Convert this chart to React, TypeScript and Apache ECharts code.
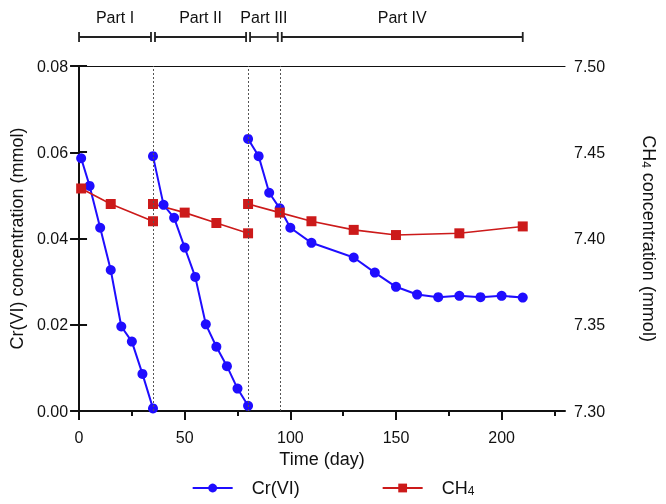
import React, { useEffect, useRef } from "react";
import * as echarts from "echarts";

// ---- data ----
const crDay = [1, 5, 10, 15, 20, 25, 30, 35, 35, 40, 45, 50, 55, 60, 65, 70, 75, 80, 80, 85, 90, 95, 100, 110, 130, 140, 150, 160, 170, 180, 190, 200, 210];
const crValue = [0.0586, 0.0522, 0.0425, 0.0327, 0.0196, 0.0161, 0.0086, 0.0006, 0.0591, 0.0478, 0.0448, 0.0379, 0.0311, 0.0201, 0.0149, 0.0104, 0.0052, 0.0012, 0.0631, 0.0591, 0.0506, 0.047, 0.0425, 0.039, 0.0356, 0.0321, 0.0288, 0.027, 0.0264, 0.0267, 0.0264, 0.0267, 0.0263];
const crRun = [1, 1, 1, 1, 1, 1, 1, 1, 2, 2, 2, 2, 2, 2, 2, 2, 2, 2, 3, 3, 3, 3, 3, 3, 3, 3, 3, 3, 3, 3, 3, 3, 3];

const ch4Day = [1, 15, 35, 35, 50, 65, 80, 80, 95, 110, 130, 150, 180, 210];
const ch4Value = [7.429, 7.42, 7.41, 7.42, 7.415, 7.409, 7.403, 7.42, 7.415, 7.41, 7.405, 7.402, 7.403, 7.407];
const ch4Run = [1, 1, 1, 2, 2, 2, 2, 3, 3, 3, 3, 3, 3, 3];

const partNames = ["Part I", "Part II", "Part III", "Part IV"];
const partStart = [0, 35, 80, 95];
const partEnd = [35, 80, 95, 210];

const xMajorTicks = [0, 50, 100, 150, 200];
const xMinorTicks = [25, 75, 125, 175, 225];

const FONT = "'Liberation Sans', Arial, Helvetica, sans-serif";
const INK = "#111";

function buildRuns(days: number[], vals: number[], runs: number[]) {
  const out: any[] = [];
  for (let i = 0; i < days.length; i++) {
    if (i > 0 && runs[i] !== runs[i - 1]) out.push("-");
    out.push([days[i], vals[i]]);
  }
  return out;
}

export default function App() {
  const ref = useRef<HTMLDivElement>(null);
  useEffect(() => {
    if (!ref.current) return;
    const chart = echarts.init(ref.current, null, { renderer: "svg" });
    const boundaries = partStart.slice(1);
    const axisLine = { lineStyle: { color: INK, width: 2 } };
    const subStyle = { fontFamily: FONT, fontSize: 12, color: INK, verticalAlign: "bottom", lineHeight: 12 };
    const option: any = {
      animation: false,
      grid: { left: 78, right: 73, top: 66, bottom: 93, containLabel: false },
      legend: {
        data: ["Cr(VI)", "CH4"],
        bottom: 2,
        left: "center",
        itemWidth: 40,
        itemHeight: 11,
        itemGap: 82,
        formatter: (n: string) => (n === "CH4" ? "CH{sub|4}" : n),
        textStyle: {
          fontFamily: FONT,
          fontSize: 18,
          color: INK,
          padding: [0, 0, 0, 14],
          rich: { sub: subStyle },
        },
      },
      xAxis: [
        {
          type: "value",
          min: 0,
          max: 230,
          position: "bottom",
          name: "Time (day)",
          nameLocation: "middle",
          nameGap: 36,
          nameTextStyle: { fontFamily: FONT, fontSize: 18, color: INK },
          axisLine: { show: true, ...axisLine },
          axisTick: { show: true, customValues: xMajorTicks, length: 9, lineStyle: { color: INK, width: 2 } },
          axisLabel: { customValues: xMajorTicks, fontFamily: FONT, fontSize: 16, color: INK, margin: 18 },
          splitLine: { show: false },
        },
        {
          type: "value",
          min: 0,
          max: 230,
          position: "bottom",
          axisLine: { show: false },
          axisTick: { show: true, customValues: xMinorTicks, length: 5, lineStyle: { color: INK, width: 2 } },
          axisLabel: { show: false },
          splitLine: { show: false },
        },
        {
          type: "value",
          min: 0,
          max: 230,
          position: "top",
          axisLine: { show: true, lineStyle: { color: INK, width: 1.2 } },
          axisTick: { show: false },
          axisLabel: { show: false },
          splitLine: { show: false },
        },
      ],
      yAxis: [
        {
          type: "value",
          min: 0,
          max: 0.08,
          interval: 0.02,
          position: "left",
          name: "Cr(VI) concentration (mmol)",
          nameLocation: "middle",
          nameRotate: 90,
          nameGap: 52,
          nameTextStyle: { fontFamily: FONT, fontSize: 18, color: INK },
          axisLine: { show: true, ...axisLine },
          axisTick: { show: true, length: 9, lineStyle: { color: INK, width: 2 } },
          axisLabel: { fontFamily: FONT, fontSize: 16, color: INK, margin: 11, formatter: (v: number) => v.toFixed(2) },
          splitLine: { show: false },
        },
        {
          type: "value",
          min: 7.3,
          max: 7.5,
          interval: 0.05,
          position: "right",
          name: "CH{sub|4} concentration (mmol)",
          nameLocation: "middle",
          nameRotate: -90,
          nameGap: 75,
          nameTextStyle: {
            fontFamily: FONT,
            fontSize: 18,
            color: INK,
            rich: { sub: subStyle },
          },
          axisLine: { show: true, ...axisLine },
          axisTick: { show: true, length: 8, lineStyle: { color: INK, width: 2 } },
          axisLabel: { fontFamily: FONT, fontSize: 16, color: INK, margin: 9, formatter: (v: number) => v.toFixed(2) },
          splitLine: { show: false },
        },
      ],
      series: [
        {
          type: "custom",
          name: "parts",
          xAxisIndex: 0,
          yAxisIndex: 0,
          silent: true,
          clip: false,
          encode: { x: [0, 1] },
          data: partStart.map((s, i) => [s, partEnd[i]]),
          renderItem: (params: any, api: any) => {
            const idx = params.dataIndex;
            const n = partStart.length;
            const x0 = api.coord([api.value(0), 0])[0] + (idx > 0 ? 2 : 0);
            const x1 = api.coord([api.value(1), 0])[0] - (idx < n - 1 ? 2 : 0);
            const yLine = params.coordSys.y - 29;
            const ls = { stroke: "#222", lineWidth: 1.8 };
            return {
              type: "group",
              children: [
                { type: "line", shape: { x1: x0, y1: yLine, x2: x1, y2: yLine }, style: ls },
                { type: "line", shape: { x1: x0, y1: yLine - 5, x2: x0, y2: yLine + 5 }, style: ls },
                { type: "line", shape: { x1: x1, y1: yLine - 5, x2: x1, y2: yLine + 5 }, style: ls },
                {
                  type: "text",
                  x: (x0 + x1) / 2,
                  y: yLine - 20,
                  style: {
                    text: partNames[idx],
                    fill: INK,
                    fontFamily: FONT,
                    fontSize: 16,
                    align: "center",
                    verticalAlign: "middle",
                    textAlign: "center",
                    textVerticalAlign: "middle",
                  },
                },
              ],
            };
          },
        },
        {
          type: "line",
          name: "Cr(VI)",
          xAxisIndex: 0,
          yAxisIndex: 0,
          data: buildRuns(crDay, crValue, crRun),
          connectNulls: false,
          symbol: "circle",
          symbolSize: 10,
          color: "#1f0dff",
          lineStyle: { color: "#1f0dff", width: 2 },
          itemStyle: { color: "#1f0dff" },
          markLine: {
            silent: true,
            symbol: "none",
            label: { show: false },
            lineStyle: { color: "#555", type: [2, 2], width: 1 },
            data: boundaries.map((b) => ({ xAxis: b })),
          },
        },
        {
          type: "line",
          name: "CH4",
          xAxisIndex: 0,
          yAxisIndex: 1,
          data: buildRuns(ch4Day, ch4Value, ch4Run),
          connectNulls: false,
          symbol: "rect",
          symbolSize: 10,
          color: "#cc1a1a",
          lineStyle: { color: "#cc1a1a", width: 1.6 },
          itemStyle: { color: "#cc1a1a" },
        },
      ],
    };
    chart.setOption(option);
    return () => chart.dispose();
  }, []);
  return <div ref={ref} style={{ position: "fixed", left: 0, top: 0, width: 666, height: 504 }} />;
}
